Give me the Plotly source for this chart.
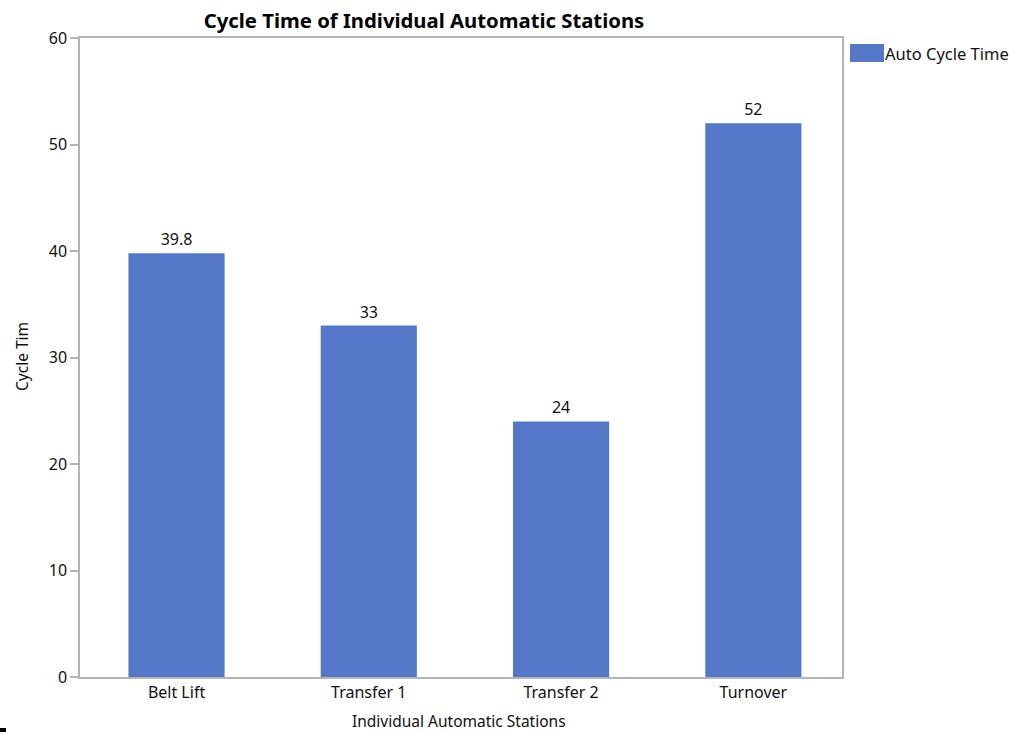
import plotly.graph_objects as go

stations = ["Belt Lift", "Transfer 1", "Transfer 2", "Turnover"]
cycle_times = [39.8, 33, 24, 52]
y_ticks = [0, 10, 20, 30, 40, 50, 60]
series_name = "Auto Cycle Time"

BAR_COLOR = "#5577c7"
AXIS_COLOR = "#b4b4b4"
FONT = "Noto Sans, Open Sans, sans-serif"

# plot-area geometry in pixels (used to place paper-referenced extras)
W, H = 1014, 732
ML, MR, MT, MB = 80, 172, 38, 55
PW, PH = W - ML - MR, H - MT - MB

fig = go.Figure()
fig.add_trace(go.Bar(
    x=stations,
    y=cycle_times,
    name=series_name,
    marker=dict(color=BAR_COLOR, line=dict(width=0)),
    width=0.5,
    text=[f"{v:g}" for v in cycle_times],
    textposition="outside",
    textfont=dict(size=16, color="#111111", family=FONT),
    cliponaxis=False,
    showlegend=False,
))

fig.update_layout(
    width=W,
    height=H,
    margin=dict(l=ML, r=MR, t=MT, b=MB, autoexpand=False),
    paper_bgcolor="white",
    plot_bgcolor="white",
    font=dict(family=FONT, size=15, color="#111111"),
    title=dict(
        text="<b>Cycle Time of Individual Automatic Stations</b>",
        x=424 / W, xanchor="center",
        y=1 - 21 / H, yanchor="middle",
        font=dict(size=20.3, color="#000000", family=FONT),
    ),
    showlegend=False,
)

fig.update_xaxes(
    range=[-0.502, 3.461],
    showline=True, linecolor=AXIS_COLOR, linewidth=1.5, mirror=True,
    showgrid=False, ticks="", zeroline=False, automargin=False,
    tickfont=dict(size=16),
)
fig.update_yaxes(
    range=[0, 60],
    tickvals=y_ticks,
    showline=True, linecolor=AXIS_COLOR, linewidth=1.5, mirror=True,
    showgrid=False, zeroline=False, automargin=False,
    ticks="outside", ticklen=8, tickcolor=AXIS_COLOR, tickwidth=1.5,
    tickfont=dict(size=16),
)

# axis titles placed explicitly
fig.add_annotation(text="Individual Automatic Stations", xref="paper", yref="paper",
                   x=(459 - ML) / PW, y=-(721 - (MT + PH)) / PH,
                   xanchor="center", yanchor="middle", showarrow=False,
                   font=dict(size=15.5, color="#111111"))
fig.add_annotation(text="Cycle Tim", xref="paper", yref="paper",
                   x=-(ML - 22) / PW, y=1 - (357 - MT) / PH, textangle=-90,
                   xanchor="center", yanchor="middle", showarrow=False,
                   font=dict(size=15.5, color="#111111"))

# legend: wide colour swatch with series name
fig.add_shape(type="rect", xref="paper", yref="paper",
              x0=(850 - ML) / PW, x1=(884 - ML) / PW,
              y0=1 - (62 - MT) / PH, y1=1 - (44 - MT) / PH,
              fillcolor=BAR_COLOR, line=dict(width=0))
fig.add_annotation(text=series_name, xref="paper", yref="paper",
                   x=(883 - ML) / PW, y=1 - (53 - MT) / PH,
                   xanchor="left", yanchor="middle", showarrow=False,
                   font=dict(size=16.5, color="#111111"))

# short dark dash in the lower-left corner
fig.add_shape(type="rect", xref="paper", yref="paper",
              x0=-ML / PW, x1=-(ML - 6) / PW,
              y0=-(732 - (MT + PH)) / PH, y1=-(728 - (MT + PH)) / PH,
              fillcolor="#000000", line=dict(width=0))

fig.write_html("out.html")
